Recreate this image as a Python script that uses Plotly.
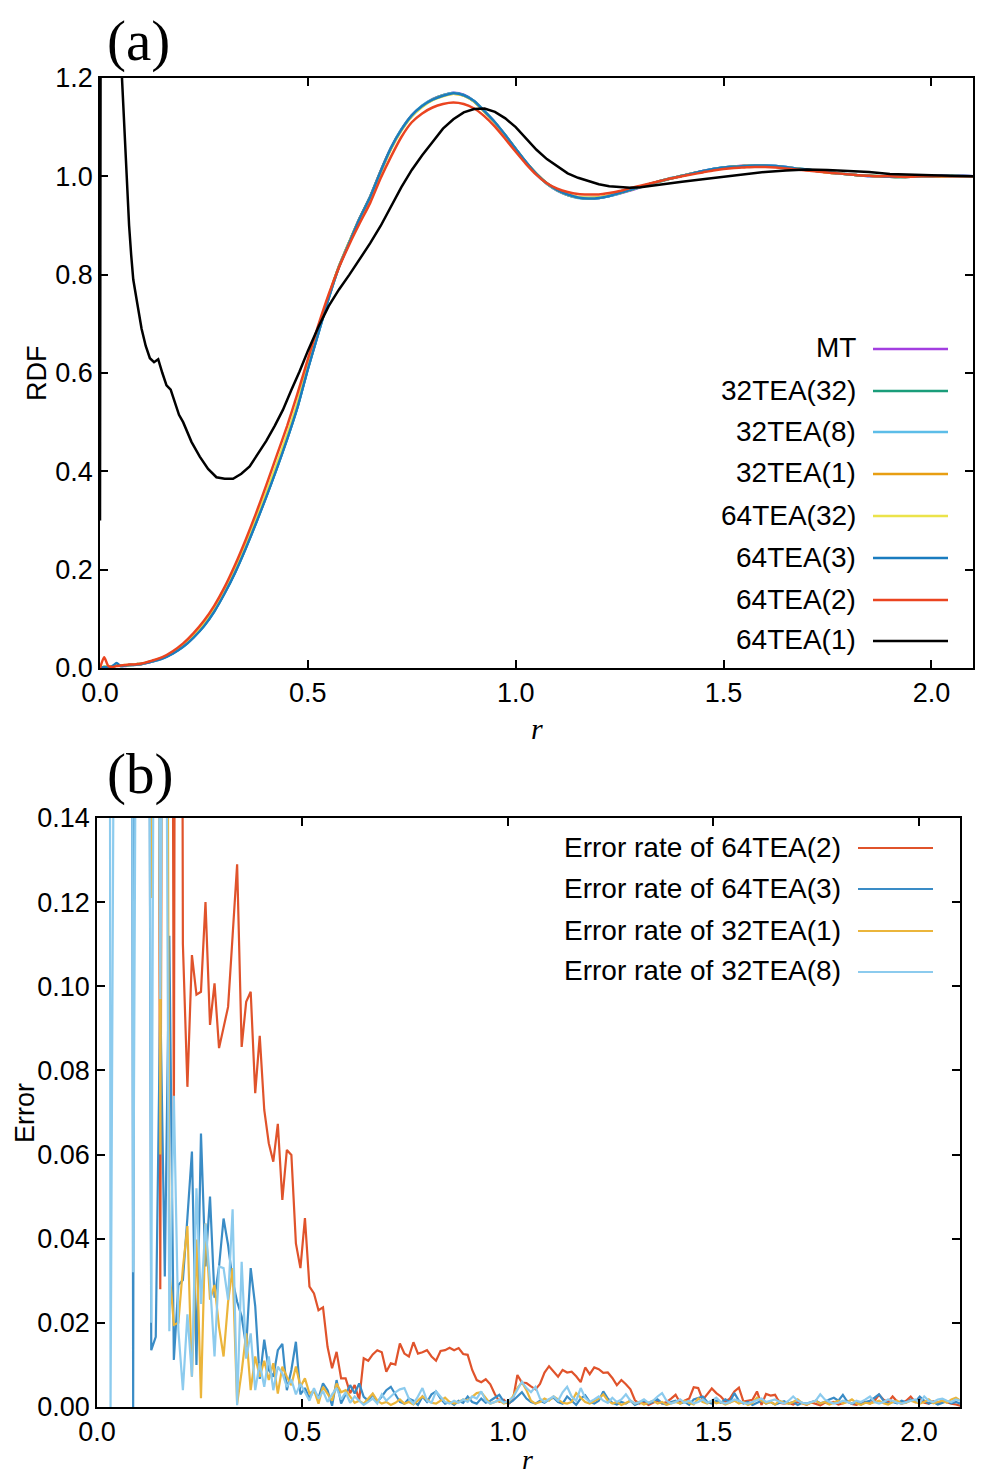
import numpy as np
import plotly.graph_objects as go

# ---------------- data: panel (a) RDF ----------------
r_top = np.round(np.concatenate([np.arange(0, 0.1001, 0.01), np.arange(0.125, 2.1001, 0.025)]), 3).tolist()

rdf_MT = [0.000, 0.001, 0.002, 0.003, 0.006, 0.005, 0.004, 0.006, 0.007, 0.007,
          0.008, 0.013, 0.020, 0.030, 0.044, 0.063, 0.087, 0.117, 0.154, 0.196,
          0.244, 0.296, 0.350, 0.407, 0.467, 0.532, 0.610, 0.681, 0.754, 0.817,
          0.867, 0.916, 0.959, 1.011, 1.058, 1.095, 1.124, 1.143, 1.157, 1.165,
          1.170, 1.166, 1.153, 1.132, 1.110, 1.083, 1.055, 1.028, 1.004, 0.985,
          0.971, 0.962, 0.957, 0.955, 0.956, 0.960, 0.965, 0.971, 0.978, 0.985,
          0.991, 0.996, 1.001, 1.006, 1.011, 1.015, 1.018, 1.020, 1.022, 1.022,
          1.022, 1.021, 1.019, 1.016, 1.013, 1.011, 1.008, 1.006, 1.004, 1.002,
          1.000, 1.000, 0.999, 0.999, 1.000, 1.000, 1.000, 1.001, 1.000, 1.001,
          1.000]
rdf_32TEA32 = [0.000, 0.002, 0.003, 0.002, 0.005, 0.004, 0.005, 0.006, 0.006, 0.008,
               0.008, 0.014, 0.020, 0.030, 0.044, 0.063, 0.086, 0.116, 0.153, 0.195,
               0.243, 0.295, 0.349, 0.406, 0.466, 0.531, 0.609, 0.681, 0.753, 0.817,
               0.867, 0.915, 0.959, 1.010, 1.057, 1.095, 1.123, 1.143, 1.156, 1.165,
               1.169, 1.165, 1.152, 1.132, 1.109, 1.083, 1.056, 1.028, 1.005, 0.985,
               0.972, 0.962, 0.957, 0.956, 0.956, 0.960, 0.966, 0.972, 0.978, 0.985,
               0.990, 0.996, 1.001, 1.006, 1.010, 1.015, 1.018, 1.020, 1.021, 1.022,
               1.021, 1.021, 1.018, 1.016, 1.014, 1.011, 1.008, 1.006, 1.004, 1.002,
               1.001, 1.000, 0.999, 0.998, 0.999, 1.000, 1.000, 1.000, 1.001, 1.000,
               1.000]
rdf_32TEA8 = [0.000, 0.001, 0.002, 0.004, 0.007, 0.004, 0.005, 0.005, 0.007, 0.007,
              0.009, 0.013, 0.019, 0.030, 0.043, 0.063, 0.086, 0.116, 0.153, 0.195,
              0.243, 0.295, 0.349, 0.406, 0.466, 0.531, 0.609, 0.680, 0.752, 0.816,
              0.866, 0.915, 0.958, 1.010, 1.058, 1.096, 1.124, 1.144, 1.157, 1.165,
              1.170, 1.165, 1.153, 1.133, 1.110, 1.084, 1.055, 1.029, 1.004, 0.985,
              0.971, 0.962, 0.956, 0.955, 0.956, 0.960, 0.965, 0.972, 0.979, 0.985,
              0.991, 0.997, 1.001, 1.006, 1.011, 1.015, 1.018, 1.020, 1.021, 1.022,
              1.022, 1.021, 1.019, 1.016, 1.014, 1.011, 1.009, 1.006, 1.004, 1.002,
              1.000, 1.000, 0.999, 0.999, 0.999, 1.000, 1.000, 1.000, 1.000, 1.001,
              1.000]
rdf_32TEA1 = [0.000, 0.002, 0.002, 0.003, 0.006, 0.005, 0.005, 0.006, 0.007, 0.007,
              0.008, 0.014, 0.020, 0.031, 0.045, 0.064, 0.088, 0.118, 0.155, 0.197,
              0.246, 0.298, 0.352, 0.409, 0.469, 0.535, 0.612, 0.683, 0.755, 0.817,
              0.867, 0.915, 0.958, 1.010, 1.057, 1.094, 1.123, 1.142, 1.156, 1.164,
              1.168, 1.164, 1.152, 1.131, 1.109, 1.083, 1.055, 1.028, 1.005, 0.986,
              0.972, 0.963, 0.957, 0.956, 0.957, 0.961, 0.966, 0.972, 0.979, 0.985,
              0.991, 0.996, 1.001, 1.006, 1.010, 1.014, 1.017, 1.020, 1.021, 1.021,
              1.021, 1.020, 1.018, 1.016, 1.013, 1.011, 1.008, 1.006, 1.004, 1.002,
              1.001, 1.000, 0.999, 0.999, 0.999, 1.000, 1.000, 1.000, 1.000, 1.000,
              1.000]
rdf_64TEA32 = [0.000, 0.003, 0.002, 0.003, 0.005, 0.005, 0.006, 0.006, 0.007, 0.008,
               0.009, 0.014, 0.021, 0.032, 0.047, 0.066, 0.090, 0.121, 0.158, 0.201,
               0.250, 0.303, 0.357, 0.415, 0.475, 0.540, 0.616, 0.686, 0.756, 0.817,
               0.867, 0.914, 0.957, 1.008, 1.055, 1.093, 1.122, 1.141, 1.155, 1.163,
               1.168, 1.164, 1.152, 1.131, 1.109, 1.083, 1.055, 1.028, 1.005, 0.986,
               0.972, 0.963, 0.958, 0.956, 0.957, 0.961, 0.966, 0.972, 0.979, 0.985,
               0.991, 0.996, 1.001, 1.005, 1.010, 1.014, 1.017, 1.020, 1.021, 1.021,
               1.021, 1.020, 1.018, 1.016, 1.013, 1.011, 1.008, 1.006, 1.004, 1.002,
               1.001, 1.000, 0.999, 0.999, 1.000, 1.000, 1.000, 1.000, 1.000, 1.000,
               1.000]
rdf_64TEA3 = [0.000, 0.002, 0.001, 0.004, 0.010, 0.004, 0.005, 0.006, 0.006, 0.007,
              0.008, 0.013, 0.019, 0.029, 0.043, 0.062, 0.085, 0.115, 0.152, 0.194,
              0.242, 0.294, 0.348, 0.405, 0.465, 0.530, 0.608, 0.680, 0.752, 0.816,
              0.866, 0.915, 0.958, 1.010, 1.058, 1.095, 1.124, 1.143, 1.156, 1.164,
              1.169, 1.165, 1.153, 1.132, 1.110, 1.084, 1.056, 1.029, 1.005, 0.986,
              0.972, 0.963, 0.957, 0.955, 0.956, 0.960, 0.966, 0.972, 0.979, 0.985,
              0.991, 0.996, 1.001, 1.006, 1.011, 1.015, 1.018, 1.020, 1.021, 1.022,
              1.022, 1.021, 1.019, 1.016, 1.014, 1.011, 1.009, 1.006, 1.004, 1.002,
              1.001, 1.000, 0.999, 0.999, 0.999, 1.000, 1.000, 1.001, 1.000, 1.000,
              1.000]
rdf_64TEA2 = [0.000, 0.022, 0.004, 0.002, 0.004, 0.005, 0.006, 0.007, 0.007, 0.008,
              0.009, 0.015, 0.022, 0.034, 0.050, 0.071, 0.096, 0.127, 0.165, 0.210,
              0.260, 0.314, 0.372, 0.432, 0.492, 0.558, 0.628, 0.697, 0.760, 0.815,
              0.862, 0.905, 0.946, 0.996, 1.040, 1.080, 1.110, 1.128, 1.140, 1.147,
              1.150, 1.147, 1.138, 1.122, 1.101, 1.076, 1.050, 1.025, 1.003, 0.986,
              0.975, 0.968, 0.964, 0.963, 0.963, 0.966, 0.970, 0.976, 0.981, 0.986,
              0.991, 0.996, 1.000, 1.004, 1.008, 1.012, 1.015, 1.017, 1.018, 1.019,
              1.019, 1.018, 1.016, 1.014, 1.012, 1.010, 1.008, 1.006, 1.004, 1.002,
              1.001, 1.000, 1.000, 0.999, 0.999, 1.000, 1.000, 1.000, 1.000, 1.000,
              1.000]

r_black = [0.0, 0.004, 0.05, 0.055, 0.06, 0.065, 0.07, 0.075, 0.08, 0.09,
           0.1, 0.11, 0.12, 0.13, 0.14, 0.15, 0.16, 0.17, 0.18, 0.19,
           0.2, 0.22, 0.24, 0.26, 0.28, 0.3, 0.32, 0.34, 0.36, 0.38,
           0.4, 0.42, 0.44, 0.46, 0.48,
           0.5, 0.525, 0.55, 0.575, 0.6, 0.625, 0.65, 0.675, 0.7, 0.725,
           0.75, 0.775, 0.8, 0.825, 0.85, 0.875, 0.9, 0.925, 0.95, 0.975,
           1.0, 1.025, 1.05, 1.075, 1.1, 1.125, 1.15, 1.175, 1.2, 1.225,
           1.25, 1.275, 1.3,
           1.35, 1.4, 1.45, 1.5, 1.55, 1.6, 1.65, 1.7, 1.75, 1.8,
           1.85, 1.9, 1.95, 2.0, 2.05, 2.1]
rdf_64TEA1 = [0.30, 3.0, 1.25, 1.16, 1.06, 0.98, 0.90, 0.84, 0.79, 0.74,
              0.69, 0.655, 0.63, 0.622, 0.628, 0.60, 0.575, 0.566, 0.54, 0.515,
              0.50, 0.46, 0.43, 0.405, 0.388, 0.385, 0.385, 0.395, 0.41, 0.436,
              0.462, 0.492, 0.525, 0.565, 0.603,
              0.645, 0.693, 0.736, 0.770, 0.800, 0.832, 0.864, 0.899, 0.94, 0.978,
              1.013, 1.043, 1.07, 1.097, 1.116, 1.13, 1.137, 1.138, 1.131, 1.118,
              1.10, 1.076, 1.054, 1.035, 1.02, 1.006, 0.997, 0.99, 0.984, 0.98,
              0.978, 0.977, 0.978,
              0.984, 0.989, 0.994, 0.999, 1.005, 1.009, 1.012, 1.014, 1.013, 1.011,
              1.009, 1.005, 1.003, 1.002, 1.001, 1.0]

# ---------------- data: panel (b) error rates ----------------
r_err = np.round(np.arange(192) * 0.011, 4).tolist()

err_64TEA2 = [1.0, 0.9, 1.2, 0.8, 1.1, 0.9, 0.7, 1.0, 0.8, 0.6,
              0.5, 0.6, 0.4, 0.5, 0.028, 0.45, 0.5, 0.065, 0.6, 0.11,
              0.0761, 0.1074, 0.098, 0.0987, 0.120, 0.0908, 0.1007, 0.0853, 0.090, 0.0951,
              0.112, 0.129, 0.0856, 0.0963, 0.0987, 0.0746, 0.0882, 0.0706, 0.0627, 0.0583,
              0.0673, 0.0492, 0.0611, 0.0599, 0.0389, 0.033, 0.0449, 0.0286, 0.027, 0.023,
              0.0237, 0.0143, 0.0092, 0.0131, 0.0068, 0.0068, 0.0033, 0.0052, 0.0017, 0.0116,
              0.011, 0.0125, 0.0135, 0.013, 0.0084, 0.0104, 0.0101, 0.0151, 0.0127, 0.012,
              0.0154, 0.0127, 0.013, 0.0135, 0.012, 0.011, 0.0133, 0.0135, 0.0141, 0.0135,
              0.014, 0.0126, 0.0124, 0.0088, 0.0064, 0.0059, 0.0066, 0.0054, 0.0031, 0.0013,
              0.0017, 0.0007, 0.0016, 0.0076, 0.0058, 0.0057, 0.0049, 0.0042, 0.0055, 0.0082,
              0.0097, 0.0084, 0.0072, 0.0088, 0.0082, 0.0084, 0.0073, 0.0059, 0.0094, 0.0078,
              0.0094, 0.009, 0.0081, 0.0082, 0.0069, 0.0052, 0.0064, 0.0054, 0.0042, 0.0016,
              0.0008, 0.0012, 0.0005, 0.001, 0.0015, 0.0008, 0.0012, 0.002, 0.0029, 0.001,
              0.0015, 0.002, 0.0047, 0.0045, 0.0017, 0.003, 0.0044, 0.0033, 0.0025, 0.0013,
              0.002, 0.0037, 0.0046, 0.0013, 0.0015, 0.0017, 0.0037, 0.0005, 0.0031, 0.0027,
              0.0029, 0.001, 0.0008, 0.001, 0.0006, 0.0012, 0.0009, 0.0005, 0.0011, 0.0007,
              0.0004, 0.001, 0.0008, 0.0012, 0.0006, 0.0009, 0.0014, 0.0007, 0.0005, 0.001,
              0.0012, 0.0008, 0.0015, 0.0029, 0.0017, 0.0012, 0.0025, 0.0013, 0.0008, 0.0015,
              0.0025, 0.0012, 0.0019, 0.001, 0.0008, 0.0014, 0.0009, 0.0015, 0.0011, 0.0008,
              0.0006, 0.0003]
err_64TEA3 = [0.9, 1.1, 0.8, 1.0, 0.7, 0.9, 0.6, 0.8, 0.0, 0.7,
              0.5, 0.4, 0.0135, 0.0167, 0.097, 0.031, 0.112, 0.0112, 0.029, 0.0302,
              0.045, 0.0607, 0.010, 0.065, 0.0334, 0.050, 0.026, 0.0334, 0.0448, 0.0385,
              0.030, 0.025, 0.0215, 0.0143, 0.033, 0.024, 0.0067, 0.016, 0.0088, 0.0072,
              0.0135, 0.015, 0.004, 0.0088, 0.0155, 0.003, 0.0045, 0.0021, 0.004, 0.0021,
              0.0056, 0.004, 0.0003, 0.0064, 0.0008, 0.0032, 0.0052, 0.0032, 0.0056, 0.0024,
              0.0015, 0.003, 0.0012, 0.0025, 0.004, 0.0048, 0.003, 0.0012, 0.0008, 0.002,
              0.0015, 0.0005, 0.0025, 0.0012, 0.003, 0.0037, 0.002, 0.0008, 0.0012, 0.0005,
              0.0015, 0.001, 0.0025, 0.0012, 0.0008, 0.002, 0.001, 0.0015, 0.0022, 0.0029,
              0.0012, 0.0008, 0.0015, 0.0025, 0.0035, 0.002, 0.0012, 0.0008, 0.0015, 0.001,
              0.0018, 0.0022, 0.0012, 0.0008, 0.0025, 0.0015, 0.0005, 0.002, 0.0028, 0.0012,
              0.0008, 0.0015, 0.0037, 0.002, 0.001, 0.0006, 0.0012, 0.0008, 0.0015, 0.0005,
              0.001, 0.0015, 0.0008, 0.0012, 0.0018, 0.0009, 0.0006, 0.0012, 0.0015, 0.0008,
              0.0012, 0.0005, 0.0018, 0.0022, 0.0025, 0.0012, 0.0008, 0.0015, 0.001, 0.0018,
              0.0012, 0.0033, 0.0015, 0.0008, 0.0012, 0.0005, 0.001, 0.0015, 0.0008, 0.0012,
              0.0006, 0.001, 0.0014, 0.0008, 0.0012, 0.0005, 0.001, 0.0008, 0.0012, 0.0015,
              0.0009, 0.0012, 0.0018, 0.0022, 0.0015, 0.0029, 0.0012, 0.0008, 0.001, 0.0006,
              0.0012, 0.0015, 0.0022, 0.003, 0.0015, 0.0008, 0.0012, 0.0009, 0.0015, 0.0011,
              0.0018, 0.0012, 0.0025, 0.0015, 0.0008, 0.0012, 0.0006, 0.001, 0.0014, 0.0009,
              0.0012, 0.0008]
err_32TEA1 = [1.1, 0.8, 1.0, 0.9, 1.2, 0.7, 0.9, 1.0, 0.8, 0.6,
              0.7, 0.5, 0.121, 0.5, 0.06, 0.4, 0.033, 0.0195, 0.02, 0.033,
              0.043, 0.0072, 0.0398, 0.0021, 0.0436, 0.0255, 0.029, 0.019, 0.012, 0.025,
              0.033, 0.0008, 0.0084, 0.0175, 0.004, 0.012, 0.0072, 0.011, 0.0064, 0.0104,
              0.0032, 0.0096, 0.0072, 0.0052, 0.0096, 0.0048, 0.0068, 0.0032, 0.004, 0.0008,
              0.0048, 0.003, 0.0015, 0.0056, 0.0035, 0.004, 0.0025, 0.001, 0.0015, 0.0008,
              0.002, 0.0032, 0.0015, 0.0008, 0.0012, 0.0005, 0.001, 0.0018, 0.0008, 0.0012,
              0.0006, 0.0015, 0.0025, 0.0018, 0.001, 0.0008, 0.0015, 0.0022, 0.0012, 0.0008,
              0.0012, 0.0018, 0.0015, 0.0025, 0.0033, 0.0035, 0.002, 0.0008, 0.0012, 0.0015,
              0.0008, 0.0012, 0.0025, 0.0045, 0.0059, 0.004, 0.0015, 0.0008, 0.0012, 0.002,
              0.0015, 0.0025, 0.0018, 0.001, 0.0008, 0.0012, 0.0033, 0.0022, 0.0012, 0.0008,
              0.0015, 0.002, 0.003, 0.0015, 0.0008, 0.0012, 0.0005, 0.001, 0.0015, 0.0008,
              0.0012, 0.0006, 0.001, 0.0015, 0.0008, 0.0012, 0.0005, 0.0009, 0.0012, 0.0008,
              0.0015, 0.001, 0.0006, 0.002, 0.0012, 0.0008, 0.0015, 0.0009, 0.0012, 0.0006,
              0.001, 0.0015, 0.0008, 0.0012, 0.0005, 0.001, 0.0022, 0.0015, 0.0008, 0.0012,
              0.0006, 0.0015, 0.001, 0.0008, 0.0012, 0.0018, 0.0009, 0.0006, 0.001, 0.0015,
              0.0008, 0.0012, 0.0006, 0.001, 0.0015, 0.0008, 0.0012, 0.0018, 0.0009, 0.0005,
              0.001, 0.0008, 0.0012, 0.0015, 0.0009, 0.0006, 0.0012, 0.0015, 0.0008, 0.001,
              0.0015, 0.0012, 0.0008, 0.0012, 0.0018, 0.0009, 0.0012, 0.0015, 0.001, 0.0018,
              0.0022, 0.0015]
err_32TEA8 = [0.8, 0.9, 1.2, 0.0, 1.0, 0.9, 0.7, 0.8, 0.032, 0.6,
              0.5, 0.4, 0.02, 0.3, 0.097, 0.25, 0.018, 0.074, 0.0183, 0.004,
              0.022, 0.0072, 0.052, 0.0245, 0.0436, 0.0298, 0.012, 0.0334, 0.033, 0.0255,
              0.047, 0.0004, 0.0345, 0.0115, 0.0175, 0.004, 0.0104, 0.0048, 0.012, 0.004,
              0.0096, 0.008, 0.0048, 0.0065, 0.003, 0.0055, 0.0035, 0.0015, 0.0045, 0.002,
              0.0038, 0.0012, 0.003, 0.0045, 0.0018, 0.0035, 0.001, 0.0025, 0.0015, 0.0005,
              0.0012, 0.002, 0.0008, 0.003, 0.0015, 0.0025, 0.0035, 0.0042, 0.0045, 0.002,
              0.0008, 0.0025, 0.0045, 0.0015, 0.001, 0.0037, 0.0025, 0.0012, 0.0008, 0.0015,
              0.001, 0.0018, 0.0012, 0.0025, 0.002, 0.0037, 0.0015, 0.0008, 0.0012, 0.0018,
              0.001, 0.0015, 0.0022, 0.004, 0.006, 0.0045, 0.0035, 0.0048, 0.002, 0.0012,
              0.0018, 0.0025, 0.0015, 0.0035, 0.0048, 0.0025, 0.0015, 0.0045, 0.0022, 0.0012,
              0.0018, 0.0025, 0.0015, 0.001, 0.0022, 0.0012, 0.0018, 0.003, 0.0015, 0.0008,
              0.0012, 0.0018, 0.001, 0.0015, 0.0025, 0.0033, 0.0015, 0.0008, 0.0012, 0.0018,
              0.001, 0.0015, 0.0008, 0.0012, 0.0018, 0.001, 0.0015, 0.0022, 0.0012, 0.0008,
              0.0012, 0.0018, 0.0015, 0.001, 0.0008, 0.0012, 0.0015, 0.002, 0.0012, 0.0015,
              0.0018, 0.0012, 0.0008, 0.0015, 0.0025, 0.0015, 0.001, 0.0008, 0.0012, 0.0015,
              0.003, 0.0018, 0.0012, 0.0008, 0.001, 0.0015, 0.0012, 0.0008, 0.0015, 0.0012,
              0.0018, 0.0025, 0.0012, 0.0008, 0.0012, 0.0018, 0.0015, 0.001, 0.0008, 0.0012,
              0.0015, 0.0018, 0.001, 0.0025, 0.0015, 0.0012, 0.0018, 0.002, 0.0015, 0.0012,
              0.0018, 0.0015]

x_ticks = [0.0, 0.5, 1.0, 1.5, 2.0]
x_ticktext = ["0.0", "0.5", "1.0", "1.5", "2.0"]
rdf_ticks = [0.0, 0.2, 0.4, 0.6, 0.8, 1.0, 1.2]
err_ticks = [0.0, 0.02, 0.04, 0.06, 0.08, 0.10, 0.12, 0.14]

rdf_series = [
    ("MT", rdf_MT, "#a23ee0"),
    ("32TEA(32)", rdf_32TEA32, "#1a9d7a"),
    ("32TEA(8)", rdf_32TEA8, "#5cbde8"),
    ("32TEA(1)", rdf_32TEA1, "#e89e12"),
    ("64TEA(32)", rdf_64TEA32, "#ebe34a"),
    ("64TEA(3)", rdf_64TEA3, "#1a7cbf"),
    ("64TEA(2)", rdf_64TEA2, "#eb4420"),
]
black_name, black_color = "64TEA(1)", "#000000"
err_series = [
    ("Error rate of 64TEA(2)", err_64TEA2, "#e0532b"),
    ("Error rate of 64TEA(3)", err_64TEA3, "#3a8cc6"),
    ("Error rate of 32TEA(1)", err_32TEA1, "#ebb53b"),
    ("Error rate of 32TEA(8)", err_32TEA8, "#8ccbee"),
]

# ---------------- figure ----------------
# The page body has an 8px margin, so the figure is 8px smaller and all
# layout positions (measured on the 983x1479 screenshot) are shifted by 8px.
OFF = 8
W, H = 983 - OFF, 1479 - OFF


def fx(p):
    return (p - OFF) / W


def fy(p):
    return 1 - (p - OFF) / H


fig = go.Figure()

for name, ys, col in rdf_series:
    n = min(len(r_top), len(ys))
    fig.add_trace(go.Scatter(x=r_top[:n], y=ys[:n], mode="lines", name=name,
                             line=dict(color=col, width=2.5, shape="spline", smoothing=0.6),
                             showlegend=False, xaxis="x", yaxis="y"))
fig.add_trace(go.Scatter(x=r_black, y=rdf_64TEA1, mode="lines", name=black_name,
                         line=dict(color=black_color, width=2.5),
                         showlegend=False, xaxis="x", yaxis="y"))

for name, ys, col in err_series:
    n = min(len(r_err), len(ys))
    fig.add_trace(go.Scatter(x=r_err[:n], y=ys[:n], mode="lines", name=name,
                             line=dict(color=col, width=2.2),
                             showlegend=False, xaxis="x2", yaxis="y2"))

FONT = "Liberation Sans, Arial, Helvetica, sans-serif"
SERIF = "Liberation Serif, Times New Roman, serif"
TICK_SIZE = 27
LEG_SIZE = 28
axis_common = dict(showline=True, linecolor="black", linewidth=1.5, mirror="ticks",
                   ticks="inside", ticklen=8, tickwidth=1.5, tickcolor="black",
                   showgrid=False, zeroline=False, automargin=False,
                   tickfont=dict(family=FONT, size=TICK_SIZE, color="black"))

fig.update_layout(
    width=W, height=H,
    margin=dict(l=0, r=0, t=0, b=0),
    paper_bgcolor="white", plot_bgcolor="white",
    showlegend=False,
    xaxis=dict(domain=[fx(100), fx(973)], range=[0, 2.1], tickvals=x_ticks,
               ticktext=x_ticktext, anchor="y", **axis_common),
    yaxis=dict(domain=[fy(668), fy(78)], range=[0, 1.2], tickvals=rdf_ticks,
               tickformat=".1f", anchor="x", **axis_common),
    xaxis2=dict(domain=[fx(97), fx(960)], range=[0, 2.1], tickvals=x_ticks,
                ticktext=x_ticktext, anchor="y2", **axis_common),
    yaxis2=dict(domain=[fy(1407), fy(818)], range=[0, 0.14], tickvals=err_ticks,
                tickformat=".2f", anchor="x2", **axis_common),
)

# legend of panel (a): right-aligned labels with a line sample to their right
leg_a = [(n, c) for n, _, c in rdf_series] + [(black_name, black_color)]
leg_a_y = [348, 390, 431, 473, 515, 557, 599, 640]
for (name, col), yy in zip(leg_a, leg_a_y):
    fig.add_annotation(xref="paper", yref="paper", x=fx(858), y=fy(yy), text=name,
                       showarrow=False, xanchor="right", yanchor="middle",
                       font=dict(family=FONT, size=LEG_SIZE, color="black"))
    fig.add_shape(type="line", xref="paper", yref="paper", x0=fx(873), x1=fx(948),
                  y0=fy(yy + 1), y1=fy(yy + 1), line=dict(color=col, width=2.5))

# legend of panel (b)
leg_b_y = [847, 888, 930, 971]
for (name, _, col), yy in zip(err_series, leg_b_y):
    fig.add_annotation(xref="paper", yref="paper", x=fx(843), y=fy(yy), text=name,
                       showarrow=False, xanchor="right", yanchor="middle",
                       font=dict(family=FONT, size=LEG_SIZE, color="black"))
    fig.add_shape(type="line", xref="paper", yref="paper", x0=fx(858), x1=fx(933),
                  y0=fy(yy + 1), y1=fy(yy + 1), line=dict(color=col, width=2.2))

annots = [
    dict(text="(a)", x=fx(138), y=fy(41), font=dict(family=SERIF, size=57, color="black")),
    dict(text="(b)", x=fx(140), y=fy(774), font=dict(family=SERIF, size=57, color="black")),
    dict(text="RDF", x=fx(37), y=fy(373), textangle=-90, font=dict(family=FONT, size=27, color="black")),
    dict(text="Error", x=fx(25), y=fy(1113), textangle=-90, font=dict(family=FONT, size=27, color="black")),
    dict(text="<i>r</i>", x=fx(537), y=fy(728), font=dict(family=SERIF, size=30, color="black")),
    dict(text="<i>r</i>", x=fx(527), y=fy(1459), font=dict(family=SERIF, size=28, color="black")),
]
for a in annots:
    fig.add_annotation(xref="paper", yref="paper", showarrow=False,
                       xanchor="center", yanchor="middle", **a)

fig.write_html("out.html")
